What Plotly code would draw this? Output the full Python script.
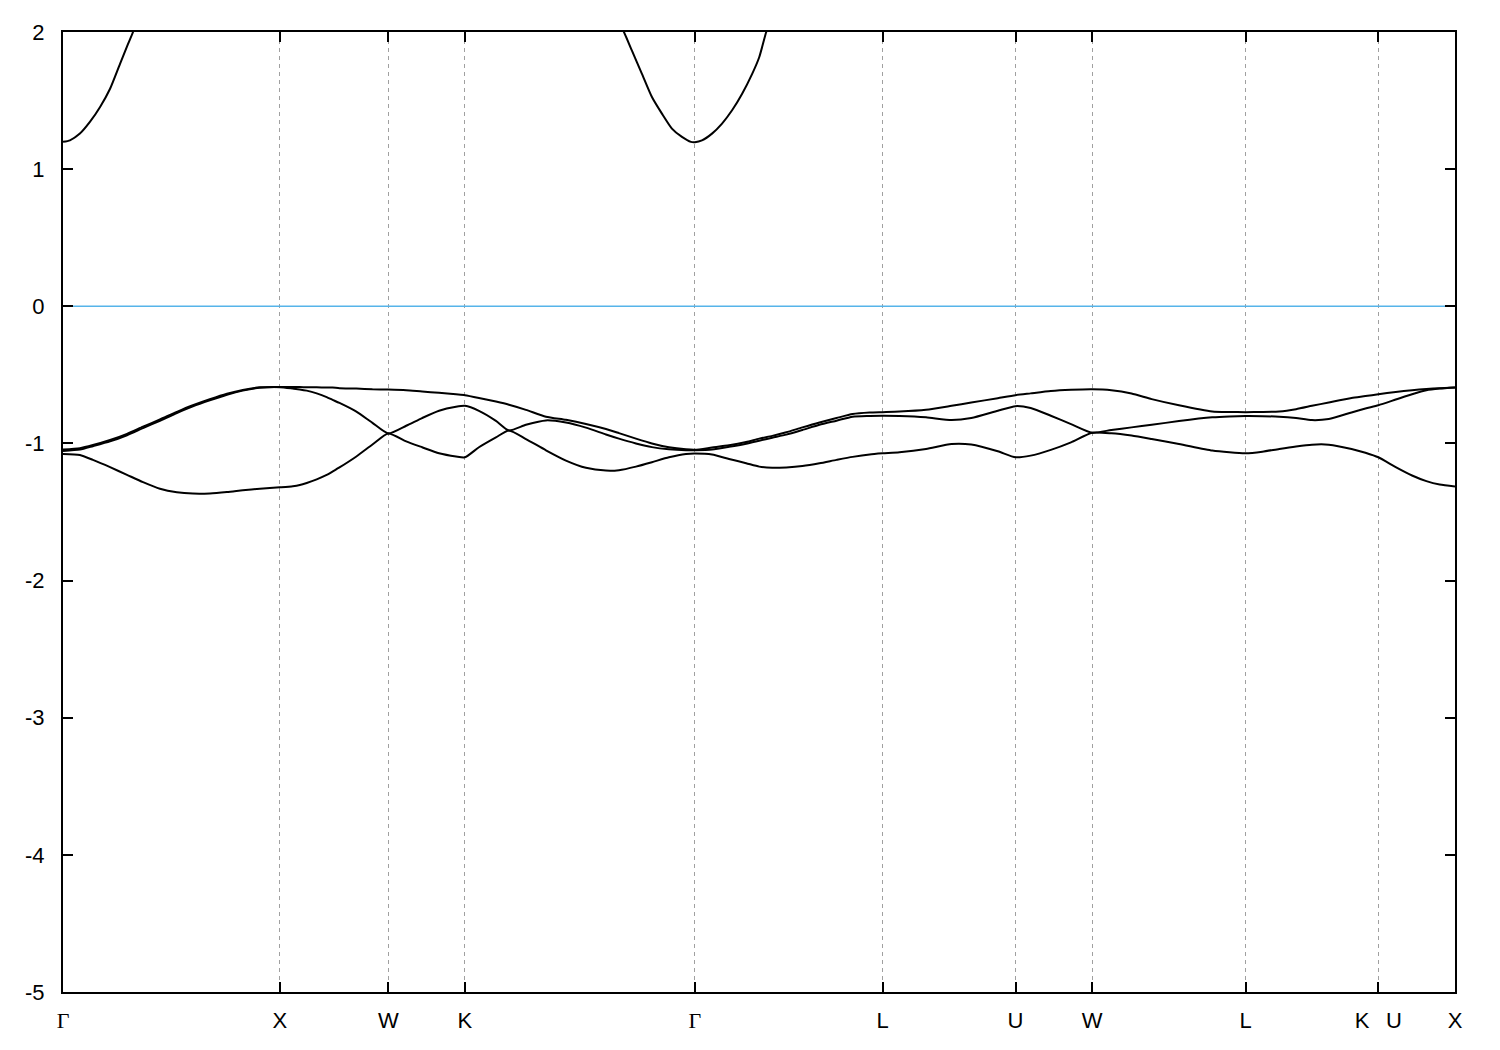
import plotly.graph_objects as go

# High-symmetry points along the path (k in units of 2*pi/a)
kpoint_pos = [0.0, 1.0, 1.5, 1.8536, 2.9142, 3.7802, 4.3926, 4.7462, 5.4533, 6.0657, 6.4193]
kpoint_lbl = ["Γ", "X", "W", "K", "Γ", "L", "U", "W", "L", "K\u00a0\u00a0\u2009U", "X"]

# Energy axis ticks
e_ticks = [-5, -4, -3, -2, -1, 0, 1, 2]
e_tick_lbl = ["-5", "-4", "-3", "-2", "-1", "0", "1", "2"]

# Valence bands (sorted by energy: top, middle, bottom), energies in eV
k_val = [0.0, 0.078, 0.138, 0.217, 0.295, 0.369, 0.447, 0.525, 0.599, 0.677, 0.756, 0.829, 0.908, 1.0,
         1.060, 1.092, 1.124, 1.170, 1.216, 1.243, 1.275, 1.353, 1.427, 1.5,
         1.5827, 1.6561, 1.7342, 1.8123, 1.8536,
         1.9182, 1.9966, 2.0565, 2.1349, 2.2271, 2.3194, 2.4116, 2.5038, 2.5638, 2.6421, 2.7159, 2.7943, 2.8727, 2.9142,
         2.9929, 3.0717, 3.1504, 3.2106, 3.2708, 3.3356, 3.4097, 3.4885, 3.5672, 3.6413, 3.7200, 3.7802,
         3.8573, 3.9798, 4.0977, 4.1885, 4.3109, 4.3926,
         4.4624, 4.5555, 4.6485, 4.7462,
         4.8346, 4.9276, 5.0207, 5.1463, 5.2998, 5.3789, 5.4533,
         5.5310, 5.6087, 5.6864, 5.7595, 5.8372, 5.9423, 6.0063, 6.0657,
         6.1459, 6.2213, 6.2873, 6.3486, 6.4193]

band_top = [-1.045, -1.035, -1.012, -0.975, -0.930, -0.878, -0.825, -0.770, -0.722, -0.678, -0.638, -0.610, -0.591, -0.588,
            -0.588, -0.589, -0.590, -0.591, -0.592, -0.593, -0.597, -0.600, -0.605, -0.607,
            -0.612, -0.622, -0.631, -0.642, -0.648,
            -0.668, -0.695, -0.718, -0.755, -0.805, -0.828, -0.858, -0.895, -0.925, -0.965, -1.000, -1.028, -1.043, -1.046,
            -1.030, -1.014, -0.990, -0.965, -0.945, -0.919, -0.883, -0.847, -0.815, -0.786, -0.775, -0.772,
            -0.768, -0.755, -0.726, -0.702, -0.670, -0.648,
            -0.635, -0.618, -0.609, -0.605,
            -0.612, -0.636, -0.677, -0.722, -0.767, -0.771, -0.772,
            -0.771, -0.767, -0.750, -0.726, -0.701, -0.668, -0.655, -0.641,
            -0.625, -0.612, -0.603, -0.597, -0.592]

band_mid = [-1.055, -1.045, -1.020, -0.985, -0.940, -0.888, -0.835, -0.779, -0.730, -0.686, -0.645, -0.615, -0.594, -0.590,
            -0.600, -0.606, -0.615, -0.635, -0.662, -0.682, -0.705, -0.768, -0.850, -0.927,
            -0.871, -0.815, -0.762, -0.733, -0.726,
            -0.762, -0.835, -0.905, -0.864, -0.832, -0.848, -0.885, -0.935, -0.965, -1.000, -1.027, -1.043, -1.050, -1.050,
            -1.045, -1.025, -1.002, -0.980, -0.958, -0.936, -0.902, -0.864, -0.834, -0.805, -0.800, -0.798,
            -0.800, -0.810, -0.830, -0.815, -0.762, -0.728,
            -0.742, -0.798, -0.859, -0.922,
            -0.902, -0.883, -0.864, -0.837, -0.810, -0.803, -0.800,
            -0.801, -0.805, -0.815, -0.830, -0.822, -0.774, -0.745, -0.721,
            -0.680, -0.641, -0.612, -0.600, -0.592]

band_bot = [-1.077, -1.084, -1.120, -1.173, -1.229, -1.282, -1.330, -1.356, -1.366, -1.365, -1.355, -1.342, -1.330, -1.320,
            -1.312, -1.303, -1.288, -1.262, -1.230, -1.205, -1.175, -1.095, -1.008, -0.927,
            -0.985, -1.028, -1.072, -1.095, -1.101,
            -1.028, -0.956, -0.905, -0.968, -1.050, -1.125, -1.178, -1.198, -1.195, -1.169, -1.137, -1.101, -1.077, -1.074,
            -1.081, -1.113, -1.144, -1.169, -1.178, -1.175, -1.165, -1.145, -1.120, -1.098, -1.080, -1.072,
            -1.064, -1.040, -1.004, -1.008, -1.057, -1.101,
            -1.089, -1.047, -0.992, -0.922,
            -0.926, -0.943, -0.968, -1.004, -1.052, -1.065, -1.072,
            -1.060, -1.040, -1.022, -1.009, -1.009, -1.040, -1.068, -1.101,
            -1.173, -1.234, -1.275, -1.300, -1.314]

# Conduction band pieces (values above 2 eV are clipped by the axis range)
k_cb1 = [0.0, 0.032, 0.078, 0.124, 0.171, 0.217, 0.263, 0.300, 0.323, 0.355]
e_cb1 = [1.199, 1.210, 1.259, 1.344, 1.453, 1.586, 1.768, 1.913, 2.000, 2.150]
k_cb2 = [2.5545, 2.5868, 2.6237, 2.6698, 2.7159, 2.7620, 2.8081, 2.8543, 2.8958, 2.9142,
         2.9466, 2.9929, 3.0392, 3.0855, 3.1319, 3.1782, 3.2106, 3.2430, 3.2662]
e_cb2 = [2.100, 2.000, 1.864, 1.695, 1.526, 1.405, 1.296, 1.235, 1.199, 1.197,
         1.210, 1.259, 1.332, 1.429, 1.550, 1.695, 1.816, 2.000, 2.100]

fermi_level = 0.0
y_range = [-5, 2]

fig = go.Figure()
line_style = dict(color="black", width=2, shape="spline", smoothing=0.6)
for yv in (band_top, band_mid, band_bot):
    fig.add_trace(go.Scatter(x=k_val, y=yv, mode="lines", line=line_style, hoverinfo="skip"))
fig.add_trace(go.Scatter(x=k_cb1, y=e_cb1, mode="lines", line=line_style, hoverinfo="skip"))
fig.add_trace(go.Scatter(x=k_cb2, y=e_cb2, mode="lines", line=line_style, hoverinfo="skip"))
fig.add_trace(go.Scatter(x=[kpoint_pos[0], kpoint_pos[-1]], y=[fermi_level, fermi_level], mode="lines",
                         line=dict(color="#56b4e9", width=1.5), hoverinfo="skip"))

ticktext = [('<span style="font-family:\'Liberation Serif\'">Γ</span>' if t == "Γ" else t) for t in kpoint_lbl]

# The page body adds an 8 px margin, so the figure is 8 px smaller and offset accordingly
fig.update_layout(
    width=1492, height=1042,
    margin=dict(l=55, r=45, t=20, b=58),
    plot_bgcolor="white", paper_bgcolor="white",
    showlegend=False,
    font=dict(family="Liberation Sans, Arial, sans-serif", size=22, color="black"),
)
fig.update_xaxes(
    range=[kpoint_pos[0], kpoint_pos[-1]],
    tickmode="array", tickvals=kpoint_pos, ticktext=ticktext,
    ticks="inside", ticklen=10, tickwidth=2, tickcolor="black",
    showline=True, linecolor="black", linewidth=2, mirror="ticks",
    showgrid=True, gridcolor="#a0a0a0", gridwidth=1, griddash="4px,4px",
    zeroline=False, ticklabelstandoff=8,
)
fig.update_yaxes(
    range=y_range, tickmode="array", tickvals=e_ticks, ticktext=e_tick_lbl,
    ticks="inside", ticklen=10, tickwidth=2, tickcolor="black",
    showline=True, linecolor="black", linewidth=2, mirror="ticks",
    showgrid=False, zeroline=False, ticklabelstandoff=12,
)

fig.write_html("out.html")
